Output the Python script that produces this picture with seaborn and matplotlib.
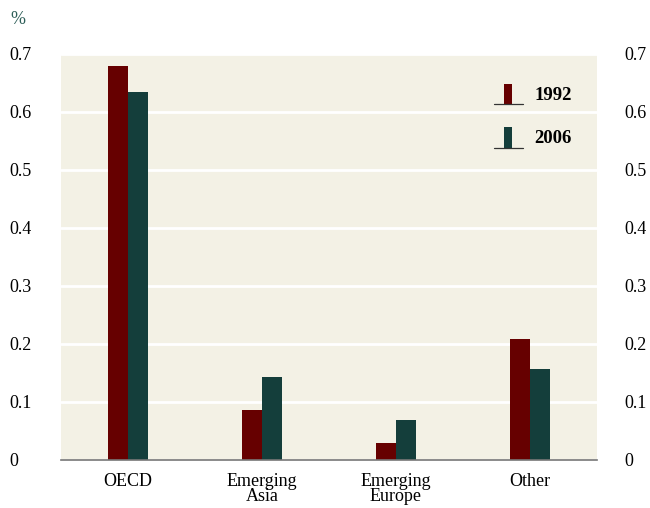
import matplotlib
matplotlib.use("Agg")
import matplotlib.pyplot as plt
import seaborn as sns
import pandas as pd
from matplotlib.legend_handler import HandlerBase
from matplotlib.lines import Line2D
from matplotlib.patches import Rectangle, Patch

# data
regions = ["OECD", "Emerging\nAsia", "Emerging\nEurope", "Other"]
share_1992 = [0.680, 0.086, 0.029, 0.208]
share_2006 = [0.635, 0.143, 0.069, 0.157]
years = ["1992", "2006"]
y_ticks = [0, 0.1, 0.2, 0.3, 0.4, 0.5, 0.6, 0.7]
y_labels = ["0", "0.1", "0.2", "0.3", "0.4", "0.5", "0.6", "0.7"]

maroon = "#660000"
teal = "#143e3b"
bg = "#f3f1e5"

df = pd.DataFrame({
    "region": regions * 2,
    "year": [years[0]] * 4 + [years[1]] * 4,
    "share": share_1992 + share_2006,
})

sns.set_theme(style="white")
plt.rcParams["font.family"] = ["Liberation Serif", "DejaVu Serif"]
plt.rcParams["text.color"] = "black"
plt.rcParams["xtick.color"] = "black"
plt.rcParams["ytick.color"] = "black"

fig = plt.figure(figsize=(6.5, 5.08), dpi=100)
ax = fig.add_axes([61 / 650, 1 - 460 / 508, 536 / 650, 406 / 508])
ax.set_facecolor(bg)

sns.barplot(data=df, x="region", y="share", hue="year", palette=[maroon, teal],
            width=0.3, gap=0, saturation=1, linewidth=0, ax=ax, legend=False)

ax.set_ylim(0, 0.7)
ax.set_xlim(-0.5, 3.5)
ax.set_yticks(y_ticks)
ax.set_yticklabels(y_labels)
ax.yaxis.grid(True, color="white", linewidth=2)
ax.set_axisbelow(True)
ax.set_xlabel("")
ax.set_ylabel("")
for s in ["top", "right", "left"]:
    ax.spines[s].set_visible(False)
ax.spines["bottom"].set_color("#777777")
ax.spines["bottom"].set_linewidth(1.2)
ax.tick_params(axis="x", length=0, pad=9, labelsize=13)
ax.tick_params(axis="y", length=0, pad=37, labelsize=13)
for lbl in ax.get_yticklabels():
    lbl.set_horizontalalignment("left")
for lbl in ax.get_xticklabels():
    lbl.set_linespacing(0.92)

ax2 = ax.twinx()
ax2.set_ylim(0, 0.7)
ax2.set_yticks(y_ticks)
ax2.set_yticklabels(y_labels)
ax2.tick_params(axis="y", length=0, pad=20, labelsize=13)
for s in ["top", "right", "left", "bottom"]:
    ax2.spines[s].set_visible(False)
ax2.grid(False)

fig.text(10 / 650, 1 - 20 / 508, "%", color="#2e5e58", fontsize=13, va="center")


class BarHandler(HandlerBase):
    def create_artists(self, legend, orig_handle, xdescent, ydescent,
                       width, height, fontsize, trans):
        bw = width * 0.27
        rect = Rectangle((width * 0.5 - bw / 2 - xdescent, -ydescent - 1),
                         bw, height + 1, facecolor=orig_handle.get_facecolor(),
                         edgecolor="none", transform=trans)
        line = Line2D([-xdescent, width - xdescent], [-ydescent - 1, -ydescent - 1],
                      color="#333333", linewidth=0.9, transform=trans)
        return [rect, line]


handles = [Patch(facecolor=maroon), Patch(facecolor=teal)]
leg = ax.legend(handles, years, handler_map={Patch: BarHandler()},
                loc="upper left", bbox_to_anchor=(416 / 536, 0.968),
                frameon=False, handlelength=1.55, handleheight=1.2,
                labelspacing=1.25, handletextpad=0.6,
                prop={"weight": "bold", "size": 13.5})

fig.savefig("out.png", dpi=100)
